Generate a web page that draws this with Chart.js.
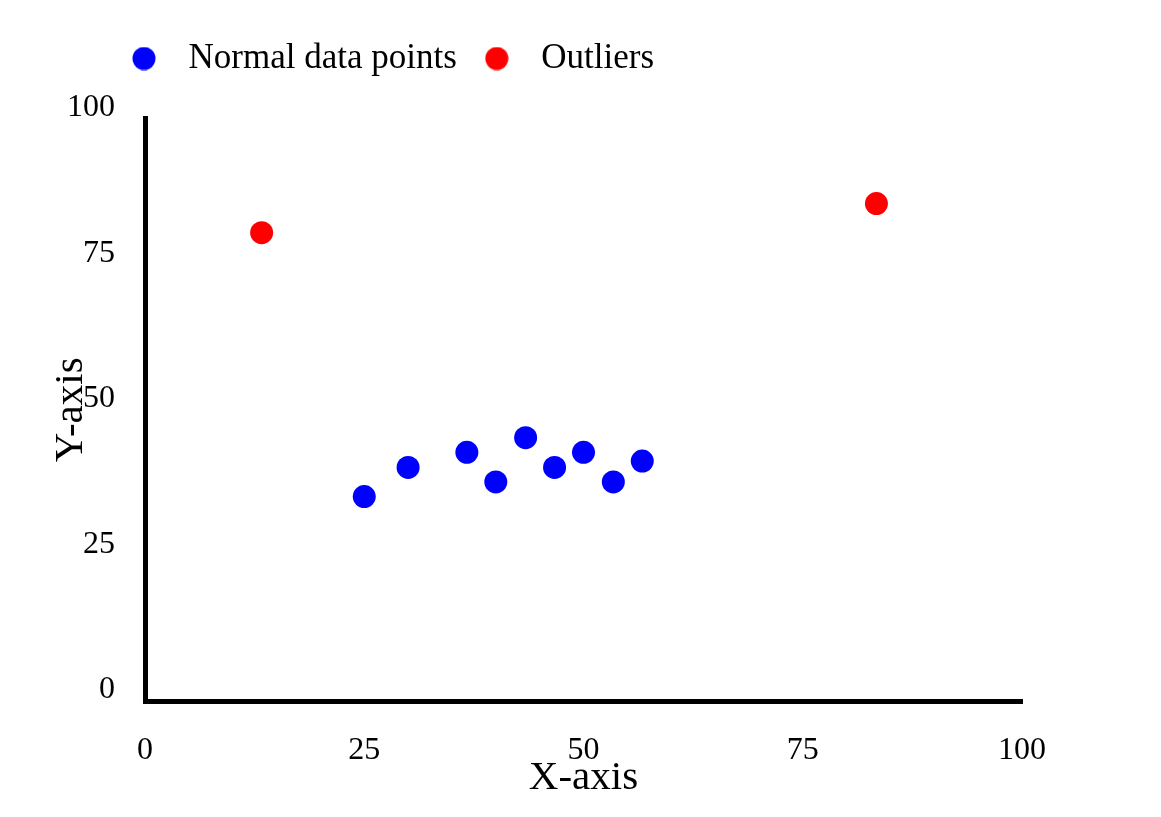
<!DOCTYPE html>
<html>
<head>
<meta charset="utf-8">
<script src="https://cdn.jsdelivr.net/npm/chart.js@4.4.1/dist/chart.umd.min.js"></script>
<style>
  html, body { margin: 0; padding: 0; background: #fff; }
  .wrap { width: 1161px; height: 817px; position: relative; }
</style>
</head>
<body>
<div class="wrap"><canvas id="myChart"></canvas></div>
<script>
// data
var seriesNames = ["Normal data points", "Outliers"];
var seriesColors = ["#0000ff", "#ff0000"];
var xNormal = [25, 30, 36.7, 40, 43.4, 46.7, 50, 53.4, 56.7];
var yNormal = [35.1, 40.1, 42.7, 37.6, 45.2, 40.1, 42.7, 37.6, 41.2];
var xOutliers = [13.3, 83.4];
var yOutliers = [80.4, 85.4];
var xTicks = [0, 25, 50, 75, 100];
var yTicks = [0, 25, 50, 75, 100];

var serif = "'Liberation Serif', 'Times New Roman', serif";
Chart.defaults.font.family = serif;
Chart.defaults.color = "#000";

function toPoints(xs, ys) {
  return xs.map(function (x, i) { return { x: x, y: ys[i] }; });
}

// little round marker for the legend (drawn as image so the gap to the text can be wider)
function dot(color) {
  var c = document.createElement("canvas");
  c.width = 24;
  c.height = 24;
  var g = c.getContext("2d");
  g.fillStyle = color;
  g.beginPath();
  g.arc(12, 12, 11.5, 0, Math.PI * 2);
  g.fill();
  return c;
}

// put the legend where it sits in the picture (top left, above the plot)
var legendShift = {
  id: "legendShift",
  afterLayout: function (chart) {
    chart.legend.left = 104;
    chart.legend.top = 28;
  }
};

new Chart("myChart", {
  type: "scatter",
  data: {
    datasets: [{
      label: seriesNames[0],
      data: toPoints(xNormal, yNormal),
      backgroundColor: seriesColors[0],
      borderWidth: 0,
      pointRadius: 11.5,
      pointHoverRadius: 11.5
    }, {
      label: seriesNames[1],
      data: toPoints(xOutliers, yOutliers),
      backgroundColor: seriesColors[1],
      borderWidth: 0,
      pointRadius: 11.5,
      pointHoverRadius: 11.5
    }]
  },
  options: {
    responsive: true,
    maintainAspectRatio: false,
    animation: false,
    layout: { padding: { left: 0, right: 139, top: 26, bottom: 0 } },
    plugins: {
      tooltip: { enabled: false },
      legend: {
        position: "top",
        align: "start",
        labels: {
          usePointStyle: true,
          pointStyleWidth: 54,
          padding: 13,
          color: "#000",
          font: { size: 35, family: serif },
          generateLabels: function (chart) {
            var items = Chart.defaults.plugins.legend.labels.generateLabels(chart);
            items.forEach(function (it, i) { it.pointStyle = dot(seriesColors[i]); });
            return items;
          }
        }
      }
    },
    scales: {
      x: {
        type: "linear",
        min: 0,
        max: 100,
        grid: { display: false },
        border: { display: true, color: "#000", width: 5 },
        ticks: { padding: 22, font: { size: 32 }, color: "#000" },
        afterBuildTicks: function (s) {
          s.ticks = xTicks.map(function (v) { return { value: v }; });
        },
        afterFit: function (s) { s.height = 116; },
        title: {
          display: true,
          text: "X-axis",
          color: "#000",
          font: { size: 41 },
          padding: { top: 0, bottom: 14 }
        }
      },
      y: {
        type: "linear",
        min: 0,
        max: 100,
        grid: { display: false },
        border: { display: true, color: "#000", width: 5 },
        ticks: { padding: 22, labelOffset: -11, font: { size: 32 }, color: "#000" },
        afterBuildTicks: function (s) {
          s.ticks = yTicks.map(function (v) { return { value: v }; });
        },
        afterFit: function (s) {
          s.width = 145;
          s.paddingTop = 118.5;
        },
        title: {
          display: true,
          text: "Y-axis",
          color: "#000",
          font: { size: 41 },
          padding: { top: 47, bottom: 0 }
        }
      }
    }
  },
  plugins: [legendShift]
});
</script>
</body>
</html>
